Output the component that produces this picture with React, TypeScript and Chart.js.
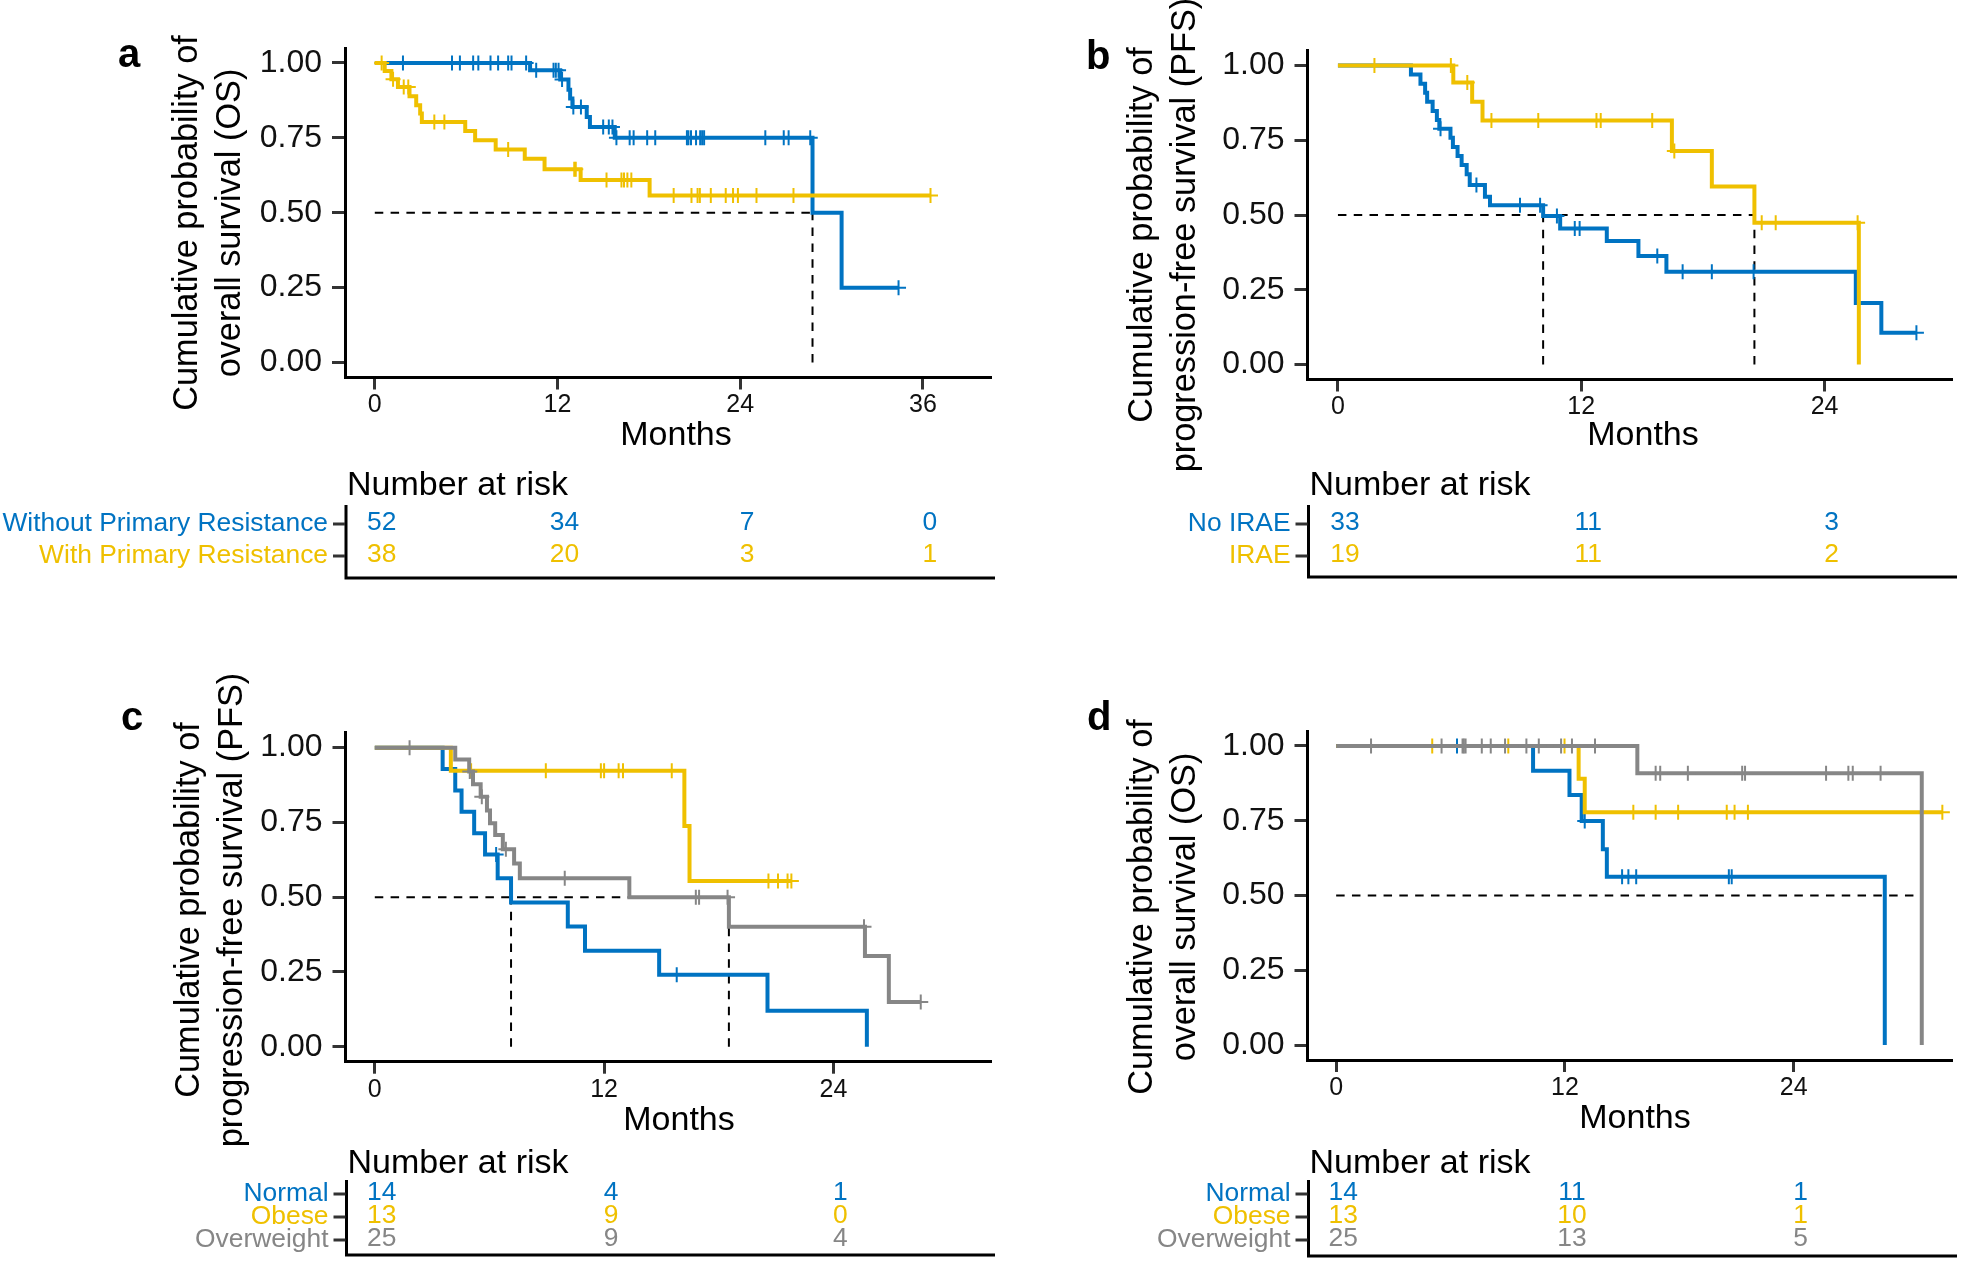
import React, { useEffect, useRef } from "react";
import { Chart, registerables } from "chart.js";

Chart.register(...registerables);

const BLUE = "#0073C2";
const YELLOW = "#EFC000";
const GRAY = "#868686";
const FONT = "'Liberation Sans', Arial, Helvetica, sans-serif";

// ---------------- Panel a : OS, primary resistance ----------------
const aWithoutTimes = [0, 10.2, 12.18, 12.72, 12.83, 12.98, 13.92, 14.13, 15.76, 28.75, 30.66, 34.4];
const aWithoutSurv = [1, 0.976, 0.945, 0.911, 0.881, 0.853, 0.82, 0.786, 0.75, 0.5, 0.25, 0.25];
const aWithoutCensor = [1.85, 5.07, 5.59, 6.46, 6.8, 7.6, 8.1, 8.76, 8.98, 9.94, 10.6, 11.74, 11.89, 12.07, 12.3, 13.04, 13.54, 15.0, 15.37, 15.61, 15.87, 16.74, 17.0, 17.89, 18.42, 20.5, 20.6, 20.77, 21.1, 21.37, 21.5, 21.63, 25.65, 26.86, 27.18, 28.6, 34.4];
const aWithTimes = [0, 0.65, 1.09, 1.52, 2.28, 2.72, 2.98, 3.09, 5.94, 6.59, 7.94, 9.85, 11.15, 13.52, 18.05, 36.5];
const aWithSurv = [1, 0.973, 0.946, 0.92, 0.889, 0.859, 0.831, 0.803, 0.773, 0.742, 0.711, 0.68, 0.645, 0.609, 0.558, 0.558];
const aWithCensor = [0.45, 1.2, 1.9, 2.2, 3.91, 4.57, 8.76, 13.1, 13.2, 15.22, 16.2, 16.37, 16.59, 16.85, 19.63, 20.8, 21.2, 21.35, 22.07, 23.05, 23.53, 23.85, 25.07, 27.5, 36.5];
const aMedians = [28.75];
const aXTicks = [0, 12, 24, 36];
const aRiskTimes = [0, 12, 24, 36];
const aRiskWithout = [52, 34, 7, 0];
const aRiskWith = [38, 20, 3, 1];

// ---------------- Panel b : PFS, IRAE ----------------
const bNoTimes = [0, 3.6, 4.07, 4.3, 4.4, 4.67, 4.88, 5.0, 5.55, 5.67, 5.9, 6.1, 6.35, 6.5, 7.25, 7.5, 10.12, 10.96, 13.26, 14.82, 16.2, 25.54, 26.8, 28.53];
const bNoSurv = [1, 0.97, 0.939, 0.909, 0.879, 0.848, 0.818, 0.788, 0.758, 0.727, 0.697, 0.667, 0.636, 0.6, 0.561, 0.533, 0.497, 0.455, 0.413, 0.363, 0.31, 0.206, 0.106, 0.106];
const bNoCensor = [5.06, 6.83, 8.98, 9.97, 10.8, 11.68, 11.92, 15.75, 17.0, 18.44, 20.5, 28.53];
const bIraeTimes = [0, 5.69, 6.62, 7.13, 16.47, 18.44, 20.54, 25.69];
const bIraeSurv = [1, 0.943, 0.879, 0.816, 0.714, 0.595, 0.474, 0];
const bIraeCensor = [1.8, 5.57, 6.38, 7.57, 9.88, 12.75, 12.96, 15.5, 16.59, 20.9, 21.59, 25.63];
const bMedians = [10.12, 20.54];
const bXTicks = [0, 12, 24];
const bRiskTimes = [0, 12, 24];
const bRiskNo = [33, 11, 3];
const bRiskIrae = [19, 11, 2];

// ---------------- Panel c : PFS, BMI ----------------
const cNormalTimes = [0, 3.55, 4.21, 4.54, 5.2, 5.77, 6.43, 7.13, 10.1, 11.0, 14.88, 20.55, 25.75];
const cNormalSurv = [1, 0.929, 0.857, 0.786, 0.714, 0.643, 0.563, 0.482, 0.402, 0.321, 0.241, 0.12, 0];
const cNormalCensor = [6.35, 15.8];
const cObeseTimes = [0, 3.98, 16.2, 16.47, 21.8];
const cObeseSurv = [1, 0.923, 0.738, 0.554, 0.554];
const cObeseCensor = [5.04, 8.95, 11.83, 12.0, 12.76, 12.99, 15.54, 20.6, 21.1, 21.6, 21.8];
const cOverTimes = [0, 4.21, 4.94, 5.14, 5.54, 5.87, 6.03, 6.3, 6.7, 7.29, 7.59, 13.32, 18.53, 25.65, 26.9, 28.57];
const cOverSurv = [1, 0.96, 0.92, 0.878, 0.836, 0.79, 0.747, 0.708, 0.66, 0.613, 0.563, 0.5, 0.401, 0.303, 0.15, 0.15];
const cOverCensor = [1.82, 4.97, 5.6, 6.86, 9.94, 16.8, 16.97, 18.46, 25.6, 28.57];
const cMedians = [7.13, 18.53];
const cXTicks = [0, 12, 24];
const cRiskTimes = [0, 12, 24];
const cRiskNormal = [14, 4, 1];
const cRiskObese = [13, 9, 0];
const cRiskOver = [25, 9, 4];

// ---------------- Panel d : OS, BMI ----------------
const dNormalTimes = [0, 10.33, 12.24, 12.88, 13.99, 14.2, 28.78];
const dNormalSurv = [1, 0.917, 0.836, 0.749, 0.655, 0.563, 0];
const dNormalCensor = [6.34, 13.04, 15.0, 15.33, 15.74, 20.6, 20.75];
const dObeseTimes = [0, 12.72, 13.04, 31.8];
const dObeseSurv = [1, 0.89, 0.778, 0.778];
const dObeseCensor = [5.04, 9.03, 11.98, 15.59, 16.76, 17.94, 20.49, 20.9, 21.6, 31.8];
const dOverTimes = [0, 15.8, 30.72];
const dOverSurv = [1, 0.909, 0];
const dOverCensor = [1.83, 5.53, 6.63, 6.7, 6.79, 7.64, 8.11, 8.86, 9.98, 10.63, 11.8, 12.37, 13.58, 16.76, 17.0, 18.45, 21.3, 21.45, 25.7, 26.87, 27.1, 28.56];
const dMedians = [28.78, 30.72];
const dXTicks = [0, 12, 24];
const dRiskTimes = [0, 12, 24];
const dRiskNormal = [14, 11, 1];
const dRiskObese = [13, 10, 1];
const dRiskOver = [25, 13, 5];

const yTicks = [0, 0.25, 0.5, 0.75, 1];

const OS_TITLE = ["Cumulative probability of", "overall survival (OS)"];
const PFS_TITLE = ["Cumulative probability of", "progression-free survival (PFS)"];

const PANELS: any[] = [
  {
    letter: "a",
    box: { left: 0, top: 0, width: 1000, height: 631 },
    plot: { L: 345, R: 995, T: 48, B: 377.5 },
    xMin: -1.957, xMax: 40.44, xTicks: aXTicks,
    curves: [
      { times: aWithoutTimes, surv: aWithoutSurv, censor: aWithoutCensor, color: BLUE },
      { times: aWithTimes, surv: aWithSurv, censor: aWithCensor, color: YELLOW },
    ],
    medians: aMedians,
    title: OS_TITLE, titleX: [197, 240], titleY: 223,
    letterPos: [118, 67], monthsPos: [676, 445],
    risk: {
      times: aRiskTimes, headerY: 495, rowY: [524, 556], axisTop: 505, axisBottom: 578,
      rows: [
        { label: "Without Primary Resistance", color: BLUE, counts: aRiskWithout },
        { label: "With Primary Resistance", color: YELLOW, counts: aRiskWith },
      ],
    },
  },
  {
    letter: "b",
    box: { left: 1000, top: 0, width: 961, height: 631 },
    plot: { L: 1307.5, R: 1957, T: 50.5, B: 379.5 },
    xMin: -1.501, xMax: 30.26, xTicks: bXTicks,
    curves: [
      { times: bNoTimes, surv: bNoSurv, censor: bNoCensor, color: BLUE },
      { times: bIraeTimes, surv: bIraeSurv, censor: bIraeCensor, color: YELLOW },
    ],
    medians: bMedians,
    title: PFS_TITLE, titleX: [1152, 1195], titleY: 235,
    letterPos: [1086, 69], monthsPos: [1643, 445],
    risk: {
      times: bRiskTimes, headerY: 495, rowY: [524, 556], axisTop: 505, axisBottom: 577,
      rows: [
        { label: "No IRAE", color: BLUE, counts: bRiskNo },
        { label: "IRAE", color: YELLOW, counts: bRiskIrae },
      ],
    },
  },
  {
    letter: "c",
    box: { left: 0, top: 631, width: 1000, height: 631 },
    plot: { L: 345.5, R: 995, T: 732.7, B: 1061.7 },
    xMin: -1.533, xMax: 32.22, xTicks: cXTicks,
    curves: [
      { times: cNormalTimes, surv: cNormalSurv, censor: cNormalCensor, color: BLUE },
      { times: cObeseTimes, surv: cObeseSurv, censor: cObeseCensor, color: YELLOW },
      { times: cOverTimes, surv: cOverSurv, censor: cOverCensor, color: GRAY },
    ],
    medians: cMedians,
    title: PFS_TITLE, titleX: [199, 242], titleY: 910,
    letterPos: [121, 730], monthsPos: [679, 1130],
    risk: {
      times: cRiskTimes, headerY: 1173, rowY: [1194, 1217, 1240], axisTop: 1180, axisBottom: 1255,
      rows: [
        { label: "Normal", color: BLUE, counts: cRiskNormal },
        { label: "Obese", color: YELLOW, counts: cRiskObese },
        { label: "Overweight", color: GRAY, counts: cRiskOver },
      ],
    },
  },
  {
    letter: "d",
    box: { left: 1000, top: 631, width: 961, height: 631 },
    plot: { L: 1307.5, R: 1957, T: 731, B: 1060 },
    xMin: -1.503, xMax: 32.28, xTicks: dXTicks,
    curves: [
      { times: dNormalTimes, surv: dNormalSurv, censor: dNormalCensor, color: BLUE },
      { times: dObeseTimes, surv: dObeseSurv, censor: dObeseCensor, color: YELLOW },
      { times: dOverTimes, surv: dOverSurv, censor: dOverCensor, color: GRAY },
    ],
    medians: dMedians,
    title: OS_TITLE, titleX: [1152, 1195], titleY: 907,
    letterPos: [1087, 730], monthsPos: [1635, 1128],
    risk: {
      times: dRiskTimes, headerY: 1173, rowY: [1194, 1217, 1240], axisTop: 1180, axisBottom: 1256,
      rows: [
        { label: "Normal", color: BLUE, counts: dRiskNormal },
        { label: "Obese", color: YELLOW, counts: dRiskObese },
        { label: "Overweight", color: GRAY, counts: dRiskOver },
      ],
    },
  },
];

function stepAt(times: number[], surv: number[], t: number) {
  let v = surv[0];
  for (let i = 0; i < times.length; i++) if (times[i] <= t) v = surv[i];
  return v;
}

function drawExtras(chart: any, s: any) {
  const ctx = chart.ctx;
  const ox = s.box.left;
  const oy = s.box.top;
  const xs = chart.scales.x;
  ctx.save();
  ctx.fillStyle = "#000";
  ctx.textBaseline = "alphabetic";
  // panel letter
  ctx.font = `bold 40px ${FONT}`;
  ctx.textAlign = "left";
  ctx.fillText(s.letter, s.letterPos[0] - ox, s.letterPos[1] - oy);
  // y title
  ctx.font = `34.3px ${FONT}`;
  ctx.textAlign = "center";
  s.title.forEach((line: string, i: number) => {
    ctx.save();
    ctx.translate(s.titleX[i] - ox, s.titleY - oy);
    ctx.rotate(-Math.PI / 2);
    ctx.fillText(line, 0, 0);
    ctx.restore();
  });
  // x title
  ctx.font = `34px ${FONT}`;
  ctx.fillText("Months", s.monthsPos[0] - ox, s.monthsPos[1] - oy);
  // risk table
  const r = s.risk;
  const L = s.plot.L - ox;
  const R = s.plot.R - ox;
  ctx.textAlign = "left";
  ctx.fillText("Number at risk", L + 2, r.headerY - oy);
  ctx.strokeStyle = "#000";
  ctx.lineWidth = 3;
  ctx.beginPath();
  ctx.moveTo(L + 1, r.axisTop - oy);
  ctx.lineTo(L + 1, r.axisBottom - oy);
  ctx.lineTo(R, r.axisBottom - oy);
  ctx.stroke();
  r.rows.forEach((row: any, i: number) => {
    const y = r.rowY[i] - oy;
    ctx.strokeStyle = "#333";
    ctx.lineWidth = 3;
    ctx.beginPath();
    ctx.moveTo(L - 12, y);
    ctx.lineTo(L, y);
    ctx.stroke();
    ctx.fillStyle = row.color;
    ctx.font = `26.4px ${FONT}`;
    ctx.textBaseline = "middle";
    ctx.textAlign = "right";
    ctx.fillText(row.label, L - 17, y);
    ctx.textAlign = "center";
    row.counts.forEach((n: number, k: number) => {
      ctx.fillText(String(n), xs.getPixelForValue(r.times[k]) + 7, y - 1.5);
    });
  });
  ctx.restore();
}

function buildConfig(s: any) {
  const ox = s.box.left;
  const oy = s.box.top;
  const chartLeft = s.plot.L - ox;
  const chartRight = s.plot.R - ox;
  const chartTop = s.plot.T - oy;
  const chartBottom = s.plot.B - oy;
  const X_AXIS_H = 50;

  const datasets: any[] = [];
  const dash = { borderColor: "#000", borderWidth: 2, borderDash: [8.5, 7.3], pointRadius: 0, fill: false, order: 50 };
  const mMax = Math.max(...s.medians);
  datasets.push({ ...dash, data: [{ x: 0, y: 0.5 }, { x: mMax, y: 0.5 }] });
  s.medians.forEach((m: number) => {
    datasets.push({ ...dash, data: [{ x: m, y: 0 }, { x: m, y: 0.5 }] });
  });
  s.curves.forEach((c: any, i: number) => {
    const ord = 20 - i * 2;
    datasets.push({
      data: c.times.map((t: number, k: number) => ({ x: t, y: c.surv[k] })),
      borderColor: c.color,
      borderWidth: 4,
      stepped: "before",
      pointRadius: 0,
      fill: false,
      order: ord + 1,
    });
    datasets.push({
      data: c.censor.map((t: number) => ({ x: t, y: stepAt(c.times, c.surv, t) })),
      showLine: false,
      pointStyle: "cross",
      pointRadius: 7.5,
      pointHoverRadius: 7.5,
      pointBorderWidth: 2,
      pointBorderColor: c.color,
      pointBackgroundColor: c.color,
      borderColor: c.color,
      order: ord,
    });
  });

  const gridBase = { drawOnChartArea: false, drawTicks: true, lineWidth: 3, color: "#333", tickColor: "#333" };
  const border = { display: true, color: "#000", width: 3 };

  return {
    type: "line",
    data: { datasets },
    options: {
      responsive: false,
      maintainAspectRatio: false,
      animation: false,
      devicePixelRatio: 1,
      events: [],
      layout: {
        padding: {
          left: 0,
          top: chartTop,
          right: s.box.width - chartRight,
          bottom: s.box.height - chartBottom - X_AXIS_H,
        },
      },
      plugins: { legend: { display: false }, tooltip: { enabled: false }, title: { display: false } },
      scales: {
        x: {
          type: "linear",
          position: "bottom",
          min: s.xMin,
          max: s.xMax,
          afterBuildTicks: (ax: any) => {
            ax.ticks = s.xTicks.map((v: number) => ({ value: v }));
          },
          afterFit: (ax: any) => {
            ax.height = X_AXIS_H;
          },
          ticks: {
            autoSkip: false,
            maxRotation: 0,
            minRotation: 0,
            padding: 1,
            color: "#111",
            font: { family: FONT, size: 25 },
            callback: (v: any) => String(v),
          },
          grid: { ...gridBase, tickLength: 12 },
          border,
        },
        y: {
          type: "linear",
          position: "left",
          min: -0.05,
          max: 1.05,
          afterBuildTicks: (ax: any) => {
            ax.ticks = yTicks.map((v) => ({ value: v }));
          },
          afterFit: (ax: any) => {
            ax.width = chartLeft;
          },
          ticks: {
            padding: 10,
            color: "#111",
            font: { family: FONT, size: 32 },
            callback: (v: any) => Number(v).toFixed(2),
          },
          grid: { ...gridBase, tickLength: 13 },
          border,
        },
      },
    },
    plugins: [{ id: "panelExtras" + s.letter, afterDraw: (chart: any) => drawExtras(chart, s) }],
  };
}

function Panel({ spec }: { spec: any }) {
  const ref = useRef<HTMLCanvasElement | null>(null);
  useEffect(() => {
    if (!ref.current) return;
    Chart.defaults.font.family = FONT;
    const chart = new Chart(ref.current, buildConfig(spec) as any);
    return () => chart.destroy();
  }, [spec]);
  const b = spec.box;
  return (
    <canvas
      ref={ref}
      width={b.width}
      height={b.height}
      style={{ position: "absolute", left: b.left, top: b.top, width: b.width, height: b.height }}
    />
  );
}

export default function App() {
  return (
    <div style={{ position: "fixed", left: 0, top: 0, width: 1961, height: 1262, background: "#fff", overflow: "hidden" }}>
      {PANELS.map((p) => (
        <Panel key={p.letter} spec={p} />
      ))}
    </div>
  );
}
